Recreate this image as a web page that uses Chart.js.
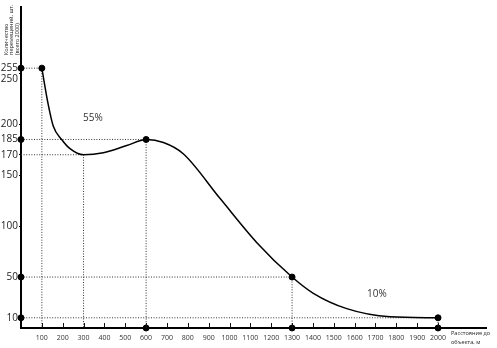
<!DOCTYPE html>
<html>
<head>
<meta charset="utf-8">
<script src="https://cdn.jsdelivr.net/npm/chart.js@4/dist/chart.umd.min.js"></script>
<style>
  html, body { margin: 0; padding: 0; background: #fff; }
  #wrap { width: 497px; height: 348px; }
</style>
</head>
<body>
<div id="wrap"><canvas id="c" width="497" height="348"></canvas></div>
<script>
// Distance to object (m) vs number of movements
const curveX = [100, 129, 155, 195, 235, 300, 395, 507, 600, 683, 778, 955, 1130, 1300, 1402, 1562, 1770, 2000];
const curveY = [255, 221, 198, 185, 176, 170, 172, 179, 185, 182, 171, 127, 84, 50, 34, 19, 11, 10];

// Key points with dotted guides down to the axes
const keyX = [100, 300, 600, 1300, 2000];
const keyY = [255, 170, 185, 50, 10];

// Markers on the curve and on the axes
const curveDotsX = [100, 600, 1300, 2000];
const curveDotsY = [255, 185, 50, 10];
const yAxisDots = [255, 185, 50, 10];
const xAxisDots = [600, 1300, 2000];

const yTickValues = [10, 50, 100, 150, 170, 185, 200, 250, 255];
const xTickValues = [100, 200, 300, 400, 500, 600, 700, 800, 900, 1000, 1100, 1200, 1300, 1400, 1500, 1600, 1700, 1800, 1900, 2000];

const shareLabels = [
  { text: '55%', x: 345, y: 206 },
  { text: '10%', x: 1707, y: 33 }
];

const yTitle = ['Количество', 'перемещений, шт.', '(всего 2000)'];
const xTitle = ['Расстояние до', 'объекта, м'];

const FONT = "'Open Sans', 'Liberation Sans', sans-serif";

const guideSets = keyX.map((kx, i) => ({
  type: 'line',
  data: [{ x: 0, y: keyY[i] }, { x: kx, y: keyY[i] }, { x: kx, y: 0 }],
  borderColor: '#333',
  borderWidth: 1,
  borderDash: [1, 1.6],
  pointRadius: 0,
  tension: 0,
  clip: false,
  order: 3
}));

const dotPoints = curveDotsX.map((x, i) => ({ x, y: curveDotsY[i] }))
  .concat(yAxisDots.map(v => ({ x: 0, y: v })))
  .concat(xAxisDots.map(v => ({ x: v, y: 0 })));

const overlay = {
  id: 'overlay',
  afterDraw(chart) {
    const ctx = chart.ctx;
    const xs = chart.scales.x, ys = chart.scales.y;
    ctx.save();
    // upward tick marks on the distance axis
    ctx.strokeStyle = '#111';
    ctx.lineWidth = 1;
    const base = ys.getPixelForValue(0);
    xTickValues.forEach(v => {
      const px = Math.round(xs.getPixelForValue(v)) + 0.5;
      ctx.beginPath();
      ctx.moveTo(px, base);
      ctx.lineTo(px, base - 5);
      ctx.stroke();
    });
    // share labels
    ctx.fillStyle = '#333';
    ctx.font = '10px ' + FONT;
    ctx.textAlign = 'center';
    ctx.textBaseline = 'middle';
    shareLabels.forEach(l => {
      ctx.fillText(l.text, xs.getPixelForValue(l.x), ys.getPixelForValue(l.y));
    });
    // distance axis title
    ctx.font = '5.6px ' + FONT;
    ctx.textAlign = 'left';
    ctx.fillStyle = '#222';
    xTitle.forEach((t, i) => ctx.fillText(t, 451, 333 + i * 9));
    // count axis title (rotated)
    ctx.font = '5.5px ' + FONT;
    ctx.translate(0, 55);
    ctx.rotate(-Math.PI / 2);
    yTitle.forEach((t, i) => ctx.fillText(t, 0, 6 + i * 5.5));
    ctx.restore();
  }
};

new Chart(document.getElementById('c'), {
  type: 'line',
  data: {
    datasets: [
      {
        type: 'line',
        data: curveX.map((x, i) => ({ x, y: curveY[i] })),
        borderColor: '#000',
        borderWidth: 1.5,
        pointRadius: 0,
        cubicInterpolationMode: 'monotone',
        order: 2
      },
      ...guideSets,
      {
        type: 'scatter',
        data: dotPoints,
        backgroundColor: '#000',
        borderColor: '#000',
        pointRadius: 3,
        clip: false,
        order: 1
      }
    ]
  },
  options: {
    responsive: false,
    animation: false,
    layout: { padding: { top: 3, right: 11, left: 0, bottom: 0 } },
    plugins: { legend: { display: false }, tooltip: { enabled: false } },
    scales: {
      x: {
        type: 'linear',
        min: 0,
        max: 2230,
        afterBuildTicks: s => { s.ticks = xTickValues.map(v => ({ value: v })); },
        afterFit: s => { s.height = 20; },
        grid: { display: true, drawOnChartArea: false, drawTicks: false },
        border: { display: true, color: '#000', width: 2 },
        ticks: {
          autoSkip: false,
          maxRotation: 0,
          padding: 6,
          color: '#333',
          font: { family: FONT, size: 7 },
          callback: v => String(v)
        }
      },
      y: {
        type: 'linear',
        min: 0,
        max: 315,
        afterBuildTicks: s => { s.ticks = yTickValues.map(v => ({ value: v })); },
        afterFit: s => { s.width = 21; },
        grid: { display: true, drawOnChartArea: false, drawTicks: true, tickLength: 2, color: '#000' },
        border: { display: true, color: '#000', width: 2 },
        ticks: {
          autoSkip: false,
          padding: 1,
          color: '#222',
          font: { family: FONT, size: 10 },
          // 250 sits just under 255, so its label is pushed half a line down
          callback: v => (v === 250 ? ['', String(v)] : String(v))
        }
      }
    }
  },
  plugins: [overlay]
});
</script>
</body>
</html>
